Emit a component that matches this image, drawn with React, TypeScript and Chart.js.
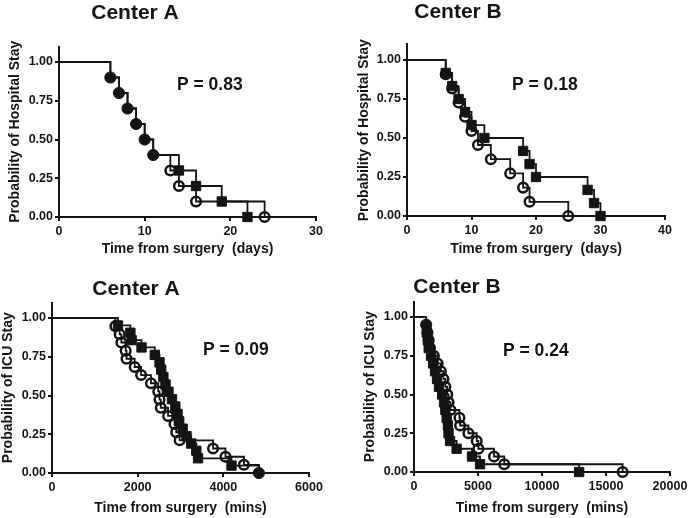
import React, { useEffect, useRef } from "react";
import { Chart, registerables } from "chart.js";
Chart.register(...registerables);

// ---- Data ----
const yTicks = [0, 0.25, 0.5, 0.75, 1];

// Panel 1: Hospital stay, Center A (days)
const hospAXTicks = [0, 10, 20, 30];
const hospACircleT = [0, 6, 7, 8, 9, 10, 11, 13, 14, 16, 24];
const hospACircleP = [1, 0.9, 0.8, 0.7, 0.6, 0.5, 0.4, 0.3, 0.2, 0.1, 0];
const hospASquareT = [0, 6, 7, 8, 9, 10, 11, 14, 16, 19, 22];
const hospASquareP = [1, 0.9, 0.8, 0.7, 0.6, 0.5, 0.4, 0.3, 0.2, 0.1, 0];

// Panel 2: Hospital stay, Center B (days)
const hospBXTicks = [0, 10, 20, 30, 40];
const hospBCircleT = [0, 6, 7, 8, 9, 10, 11, 13, 16, 18, 19, 25];
const hospBCircleP = [1, 0.909, 0.818, 0.727, 0.636, 0.545, 0.455, 0.364, 0.273, 0.182, 0.091, 0];
const hospBSquareT = [0, 6, 7, 8, 9, 10, 12, 18, 19, 20, 28, 29, 30];
const hospBSquareP = [1, 0.917, 0.833, 0.75, 0.667, 0.583, 0.5, 0.417, 0.333, 0.25, 0.167, 0.083, 0];

// Panel 3: ICU stay, Center A (mins)
const icuAXTicks = [0, 2000, 4000, 6000];
const icuACircleT = [0, 1480, 1580, 1620, 1720, 1740, 1930, 2080, 2310, 2480, 2510, 2540, 2710, 2860, 2900, 2980, 3760, 4050, 4480, 4830];
const icuACircleP = [1, 0.947, 0.895, 0.842, 0.789, 0.737, 0.684, 0.632, 0.579, 0.526, 0.474, 0.421, 0.368, 0.316, 0.263, 0.211, 0.158, 0.105, 0.053, 0];
const icuASquareT = [0, 1540, 1830, 1860, 2090, 2400, 2510, 2550, 2600, 2650, 2720, 2800, 2880, 2930, 2970, 3050, 3140, 3250, 3370, 3410, 4190, 4830];
const icuASquareP = [1, 0.952, 0.905, 0.857, 0.81, 0.762, 0.714, 0.667, 0.619, 0.571, 0.524, 0.476, 0.429, 0.381, 0.333, 0.286, 0.238, 0.19, 0.143, 0.095, 0.048, 0];

// Panel 4: ICU stay, Center B (mins)
const icuBXTicks = [0, 5000, 10000, 15000, 20000];
const icuBCircleT = [0, 950, 1050, 1150, 1250, 1550, 1850, 2100, 2300, 2450, 2600, 2700, 2850, 3550, 3600, 4250, 4900, 5030, 6250, 7050, 16300];
const icuBCircleP = [1, 0.95, 0.9, 0.85, 0.8, 0.75, 0.7, 0.65, 0.6, 0.55, 0.5, 0.45, 0.4, 0.35, 0.3, 0.25, 0.2, 0.15, 0.1, 0.05, 0];
const icuBSquareT = [0, 950, 1000, 1080, 1150, 1330, 1500, 1650, 1800, 1950, 2200, 2350, 2450, 2550, 2650, 2700, 2820, 3330, 4530, 5160, 12900];
const icuBSquareP = [1, 0.95, 0.9, 0.85, 0.8, 0.75, 0.7, 0.65, 0.6, 0.55, 0.5, 0.45, 0.4, 0.35, 0.3, 0.25, 0.2, 0.15, 0.1, 0.05, 0];

const FONT = '"Liberation Sans", Arial, sans-serif';
const INK = "#141414";

const panels = [
  {
    left: 0, top: 0, title: "Center A", titleX: 135, titleY: 13, pText: "P = 0.83", pX: 177, pY: 85,
    yTitle: "Probability of Hospital Stay", xTitle: "Time from surgery  (days)",
    xTicks: hospAXTicks, xMax: 30,
    area: { l: 59, r: 316, t: 46.5, b: 217 }, pl: 6.6,
    circ: { t: hospACircleT, p: hospACircleP }, sq: { t: hospASquareT, p: hospASquareP },
  },
  {
    left: 346, top: 0, title: "Center B", titleX: 112, titleY: 12, pText: "P = 0.18", pX: 166, pY: 85,
    yTitle: "Probability of Hospital Stay", xTitle: "Time from surgery  (days)",
    xTicks: hospBXTicks, xMax: 40,
    area: { l: 61, r: 319, t: 44.4, b: 216 }, pl: 9.6,
    circ: { t: hospBCircleT, p: hospBCircleP }, sq: { t: hospBSquareT, p: hospBSquareP },
  },
  {
    left: 0, top: 259, title: "Center A", titleX: 136, titleY: 30, pText: "P = 0.09", pX: 203, pY: 91,
    yTitle: "Probability of ICU Stay", xTitle: "Time from surgery  (mins)",
    xTicks: icuAXTicks, xMax: 6000,
    area: { l: 52, r: 309, t: 43.5, b: 214 }, pl: 0,
    circ: { t: icuACircleT, p: icuACircleP }, sq: { t: icuASquareT, p: icuASquareP },
  },
  {
    left: 346, top: 259, title: "Center B", titleX: 111, titleY: 28, pText: "P = 0.24", pX: 157, pY: 92,
    yTitle: "Probability of ICU Stay", xTitle: "Time from surgery  (mins)",
    xTicks: icuBXTicks, xMax: 20000,
    area: { l: 68, r: 324, t: 42.5, b: 213 }, pl: 15.6,
    circ: { t: icuBCircleT, p: icuBCircleP }, sq: { t: icuBSquareT, p: icuBSquareP },
  },
];

const W = 346;
const H = 259;
const PB = 1.6;

const textPlugin = {
  id: "panelText",
  afterDraw(chart: any, _args: any, opts: any) {
    const ctx = chart.ctx;
    ctx.save();
    ctx.fillStyle = INK;
    ctx.textBaseline = "middle";
    ctx.textAlign = "center";
    ctx.font = `bold 21px ${FONT}`;
    ctx.fillText(opts.title, opts.titleX, opts.titleY);
    ctx.textAlign = "left";
    ctx.font = `bold 17.5px ${FONT}`;
    ctx.fillText(opts.pText, opts.pX, opts.pY);
    ctx.restore();
  },
};

function buildDatasets(circ: any, sq: any) {
  const key = (t: number, p: number) => `${t}|${p}`;
  const sqKeys = new Set(sq.t.map((t: number, i: number) => key(t, sq.p[i])));
  const circKeys = new Set(circ.t.map((t: number, i: number) => key(t, circ.p[i])));
  const circData = circ.t.map((t: number, i: number) => ({ x: t, y: circ.p[i] }));
  const sqData = sq.t.map((t: number, i: number) => ({ x: t, y: sq.p[i] }));
  const circShared = circ.t.map((t: number, i: number) => i > 0 && sqKeys.has(key(t, circ.p[i])));
  const sqShared = sq.t.map((t: number, i: number) => i > 0 && circKeys.has(key(t, sq.p[i])));
  return [
    {
      label: "square",
      data: sqData,
      stepped: true,
      borderColor: INK,
      borderWidth: 1.8,
      pointStyle: "rect",
      pointRadius: sqData.map((_: any, i: number) => (i === 0 || sqShared[i] ? 0 : 6.6)),
      pointBackgroundColor: INK,
      pointBorderColor: INK,
      pointBorderWidth: 1,
      clip: false,
    },
    {
      label: "circle",
      data: circData,
      stepped: true,
      borderColor: INK,
      borderWidth: 1.8,
      pointStyle: "circle",
      pointRadius: circData.map((_: any, i: number) => (i === 0 ? 0 : circShared[i] ? 5.6 : 4.8)),
      pointBackgroundColor: circData.map((_: any, i: number) => (circShared[i] ? INK : "rgba(0,0,0,0)")),
      pointBorderColor: INK,
      pointBorderWidth: circData.map((_: any, i: number) => (circShared[i] ? 1 : 2.5)),
      clip: false,
    },
  ];
}

function Panel({ cfg }: { cfg: any }) {
  const ref = useRef<HTMLCanvasElement | null>(null);
  useEffect(() => {
    if (!ref.current) return;
    const { area, pl } = cfg;
    const chart = new Chart(ref.current, {
      type: "line",
      data: { datasets: buildDatasets(cfg.circ, cfg.sq) as any },
      plugins: [textPlugin as any],
      options: {
        responsive: false,
        animation: false,
        devicePixelRatio: 1,
        layout: { padding: { left: pl, top: area.t, right: W - area.r, bottom: PB } },
        plugins: {
          legend: { display: false },
          tooltip: { enabled: false },
          panelText: {
            title: cfg.title, titleX: cfg.titleX, titleY: cfg.titleY,
            pText: cfg.pText, pX: cfg.pX, pY: cfg.pY,
          },
        } as any,
        scales: {
          x: {
            type: "linear",
            min: 0,
            max: cfg.xMax,
            afterBuildTicks: (s: any) => { s.ticks = cfg.xTicks.map((v: number) => ({ value: v })); },
            afterFit: (s: any) => { s.height = H - PB - area.b; },
            grid: { display: true, drawOnChartArea: false, drawTicks: true, tickLength: 4, color: INK, lineWidth: 2 },
            border: { display: true, color: INK, width: 2 },
            ticks: {
              color: INK, padding: 3, maxRotation: 0, autoSkip: false,
              font: { family: FONT, size: 12.5, weight: "bold" },
              callback: (v: any) => String(v),
            },
            title: {
              display: true, text: cfg.xTitle, color: INK, padding: 0,
              font: { family: FONT, size: 14, weight: "bold", lineHeight: 1.2 },
            },
          },
          y: {
            type: "linear",
            min: 0,
            max: 1.1,
            afterBuildTicks: (s: any) => { s.ticks = yTicks.map((v) => ({ value: v })); },
            afterFit: (s: any) => { s.width = area.l - pl; },
            grid: { display: true, drawOnChartArea: false, drawTicks: true, tickLength: 4, color: INK, lineWidth: 2 },
            border: { display: true, color: INK, width: 2 },
            ticks: {
              color: INK, padding: 2, autoSkip: false,
              font: { family: FONT, size: 12.5, weight: "bold" },
              callback: (v: any) => Number(v).toFixed(2),
            },
            title: {
              display: true, text: cfg.yTitle, color: INK, padding: 0,
              font: { family: FONT, size: 14, weight: "bold", lineHeight: 1.2 },
            },
          },
        },
      } as any,
    });
    return () => chart.destroy();
  }, []);
  return (
    <canvas
      ref={ref}
      width={W}
      height={H}
      style={{ position: "absolute", left: cfg.left, top: cfg.top, width: W, height: H, display: "block" }}
    />
  );
}

export default function App() {
  return (
    <div style={{ position: "fixed", left: 0, top: 0, width: 692, height: 518, background: "#ffffff", overflow: "hidden" }}>
      {panels.map((p, i) => (
        <Panel key={i} cfg={p} />
      ))}
    </div>
  );
}
